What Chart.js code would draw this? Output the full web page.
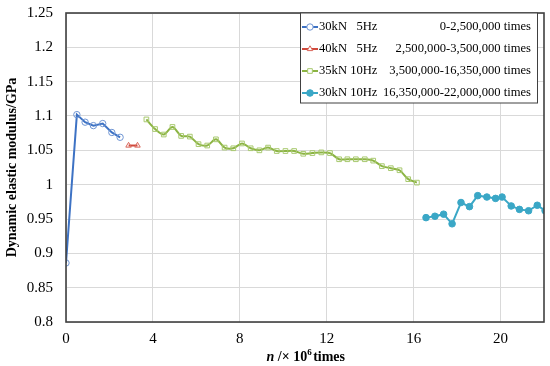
<!DOCTYPE html>
<html><head><meta charset="utf-8">
<script src="https://cdn.jsdelivr.net/npm/chart.js@4/dist/chart.umd.min.js"></script>
<style>html,body{margin:0;padding:0;background:#fff}#wrap{width:550px;height:366px}</style>
</head><body><div id="wrap"><canvas id="c" width="550" height="366"></canvas></div>
<script>
const s1x = [0, 0.5, 0.88, 1.26, 1.69, 2.11, 2.49];
const s1y = [0.886, 1.102, 1.091, 1.086, 1.089, 1.076, 1.069];
const s2x = [2.88, 3.29];
const s2y = [1.057, 1.057];
const s3x = [3.7, 4.1, 4.5, 4.9, 5.3, 5.7, 6.1, 6.5, 6.9, 7.3, 7.7, 8.1, 8.5, 8.9, 9.3, 9.7, 10.1, 10.5, 10.92, 11.34, 11.75, 12.15, 12.57, 12.95, 13.34, 13.75, 14.14, 14.54, 14.95, 15.35, 15.75, 16.15];
const s3y = [1.095, 1.081, 1.073, 1.084, 1.071, 1.070, 1.059, 1.057, 1.066, 1.054, 1.053, 1.060, 1.053, 1.050, 1.054, 1.049, 1.049, 1.049, 1.045, 1.046, 1.047, 1.046, 1.037, 1.037, 1.037, 1.037, 1.035, 1.027, 1.024, 1.021, 1.008, 1.003];
const s4x = [16.57, 16.98, 17.38, 17.77, 18.18, 18.57, 18.95, 19.37, 19.77, 20.07, 20.49, 20.87, 21.29, 21.69, 22.05];
const s4y = [0.952, 0.954, 0.957, 0.943, 0.974, 0.968, 0.984, 0.982, 0.980, 0.982, 0.969, 0.964, 0.962, 0.970, 0.962];
const seriesNames = ["30kN   5Hz", "40kN   5Hz", "35kN 10Hz", "30kN 10Hz"];
const seriesRanges = ["0-2,500,000 times", "2,500,000-3,500,000 times", "3,500,000-16,350,000 times", "16,350,000-22,000,000 times"];
const xTicks = [0, 4, 8, 12, 16, 20];
const yTitle = "Dynamic elastic modulus/GPa";

const pts = (xs, ys) => xs.map((x, i) => ({x, y: ys[i]}));
const SERIF = "'Liberation Serif','Times New Roman',serif";

const styles = [
  {line:'#3d72c4', pt:'#6f95d3', ptBg:'rgba(255,255,255,0)', fillL:'#fff', shape:'circle', r:3.2, tension:0},
  {line:'#d04a3c', pt:'#d9655a', ptBg:'rgba(255,255,255,0)', fillL:'#fff', shape:'triangle', r:3.2, tension:0},
  {line:'#8cb443', pt:'#a8c96f', ptBg:'rgba(255,255,255,0)', fillL:'#fff', shape:'rect', r:3.3, tension:0.3},
  {line:'#3aa7c6', pt:'#3aa7c6', ptBg:'#3aa7c6', fillL:'#3aa7c6', shape:'circle', r:3.3, tension:0}
];
const dataSets = [pts(s1x,s1y), pts(s2x,s2y), pts(s3x,s3y), pts(s4x,s4y)];

const frame = {
  id:'frame',
  afterDraw(chart){
    const {ctx, chartArea:a} = chart;
    ctx.save();
    ctx.strokeStyle = '#404040';
    ctx.lineWidth = 1.6;
    ctx.strokeRect(a.left, a.top, a.right - a.left, a.bottom - a.top);
    // legend box
    const L = 300, T = a.top, R = 537, B = a.top + 90;
    ctx.fillStyle = '#fff';
    ctx.fillRect(L, T, R - L, B - T);
    ctx.lineWidth = 1;
    ctx.strokeStyle = '#404040';
    ctx.strokeRect(L + 0.5, T, R - L, B - T);
    const rows = [14, 36, 58, 80].map(v => T + v);
    ctx.textBaseline = 'middle';
    rows.forEach((y, i) => {
      const st = styles[i];
      ctx.strokeStyle = st.line; ctx.lineWidth = 2;
      ctx.beginPath(); ctx.moveTo(302, y); ctx.lineTo(318, y); ctx.stroke();
      ctx.save();
      ctx.lineWidth = 1;
      ctx.fillStyle = st.fillL;
      ctx.strokeStyle = st.pt;
      Chart.helpers.drawPoint(ctx, {pointStyle: st.shape, radius: st.r, rotation: 0, borderWidth: 1}, 310, y);
      ctx.restore();
      ctx.fillStyle = '#000';
      ctx.font = "12.6px " + SERIF;
      ctx.textAlign = 'left';
      ctx.fillText(seriesNames[i], 319, y);
      ctx.textAlign = 'right';
      ctx.fillText(seriesRanges[i], 531, y);
    });
    // x title
    const cx = (a.left + a.right) / 2, ty = 357;
    const parts = [
      {t:'n', f:"italic bold 14px " + SERIF},
      {t:' /\u00D7 10', f:"bold 14px " + SERIF},
      {t:'6', f:"bold 9px " + SERIF, dy:-4},
      {t:'times', f:"bold 14px " + SERIF}
    ];
    let w = 0;
    parts.forEach(p => { ctx.font = p.f; p.w = ctx.measureText(p.t).width; w += p.w; });
    let x = cx - w / 2;
    ctx.fillStyle = '#000'; ctx.textAlign = 'left'; ctx.textBaseline = 'middle';
    parts.forEach(p => { ctx.font = p.f; ctx.fillText(p.t, x, ty + (p.dy || 0)); x += p.w + (p.t === '6' ? 1.5 : 0); });
    ctx.restore();
  }
};

new Chart(document.getElementById('c'), {
  type: 'line',
  data: {
    datasets: dataSets.map((d, i) => ({
      label: seriesNames[i],
      data: d,
      borderColor: styles[i].line,
      borderWidth: 2,
      pointStyle: styles[i].shape,
      pointRadius: styles[i].r,
      pointBorderColor: styles[i].pt,
      pointBackgroundColor: styles[i].ptBg,
      pointBorderWidth: 1,
      tension: styles[i].tension,
      fill: false
    }))
  },
  options: {
    responsive: false,
    animation: false,
    devicePixelRatio: 1,
    layout: {padding: {left: 0, right: 6, top: 13, bottom: 0}},
    plugins: {legend: {display: false}, tooltip: {enabled: false}},
    scales: {
      x: {
        type: 'linear', min: 0, max: 22,
        afterBuildTicks: s => { s.ticks = xTicks.map(v => ({value: v})); },
        afterFit: s => { s.height = 44; s.paddingLeft = 0; s.paddingRight = 0; },
        grid: {color: '#d9d9d9', lineWidth: 1, drawTicks: false},
        border: {display: false},
        ticks: {color: '#000', font: {family: SERIF, size: 15}, padding: 8, maxRotation: 0}
      },
      y: {
        min: 0.8, max: 1.25,
        afterBuildTicks: s => { const t = []; for (let i = 0; i <= 9; i++) t.push({value: +(0.8 + i * 0.05).toFixed(2)}); s.ticks = t; },
        afterFit: s => { s.width = 66; s.paddingTop = 0; s.paddingBottom = 0; },
        grid: {color: '#d9d9d9', lineWidth: 1, drawTicks: false},
        border: {display: false},
        title: {display: true, text: yTitle, color: '#000', font: {family: SERIF, size: 14, weight: 'bold'}, padding: {top: 4, bottom: 4}},
        ticks: {color: '#000', font: {family: SERIF, size: 15}, padding: 13, callback: v => String(+v.toFixed(2))}
      }
    }
  },
  plugins: [frame]
});
</script></body></html>
